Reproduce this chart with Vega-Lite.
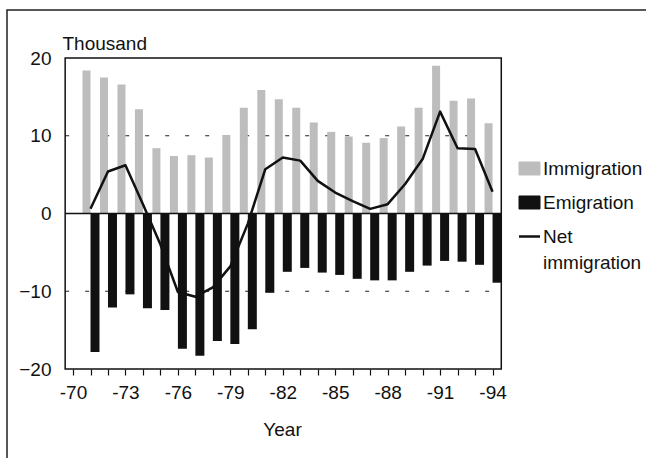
{
  "$schema": "https://vega.github.io/schema/vega-lite/v6.json",
  "width": 645,
  "height": 455,
  "autosize": {"type": "none"},
  "padding": {"left": 7, "top": 10, "right": -6, "bottom": -7},
  "background": "white",
  "config": {
    "font": "Liberation Sans",
    "view": {"stroke": "#222", "strokeWidth": 1.5}
  },
  "data": {
    "values": [
      {"year": 1971, "immigration": 18.4, "emigration": -17.8, "net": 0.6},
      {"year": 1972, "immigration": 17.5, "emigration": -12.1, "net": 5.4},
      {"year": 1973, "immigration": 16.6, "emigration": -10.4, "net": 6.2},
      {"year": 1974, "immigration": 13.4, "emigration": -12.2, "net": 1.2},
      {"year": 1975, "immigration": 8.4, "emigration": -12.4, "net": -4.0},
      {"year": 1976, "immigration": 7.4, "emigration": -17.4, "net": -10.1},
      {"year": 1977, "immigration": 7.5, "emigration": -18.3, "net": -10.7},
      {"year": 1978, "immigration": 7.2, "emigration": -16.4, "net": -9.5},
      {"year": 1979, "immigration": 10.1, "emigration": -16.8, "net": -6.8},
      {"year": 1980, "immigration": 13.6, "emigration": -14.9, "net": -1.3},
      {"year": 1981, "immigration": 15.9, "emigration": -10.2, "net": 5.7},
      {"year": 1982, "immigration": 14.7, "emigration": -7.5, "net": 7.2},
      {"year": 1983, "immigration": 13.6, "emigration": -7.0, "net": 6.8},
      {"year": 1984, "immigration": 11.7, "emigration": -7.6, "net": 4.2},
      {"year": 1985, "immigration": 10.5, "emigration": -7.9, "net": 2.7},
      {"year": 1986, "immigration": 9.9, "emigration": -8.4, "net": 1.6},
      {"year": 1987, "immigration": 9.1, "emigration": -8.6, "net": 0.6},
      {"year": 1988, "immigration": 9.7, "emigration": -8.6, "net": 1.2},
      {"year": 1989, "immigration": 11.2, "emigration": -7.5, "net": 3.8},
      {"year": 1990, "immigration": 13.6, "emigration": -6.7, "net": 7.0},
      {"year": 1991, "immigration": 19.0, "emigration": -6.1, "net": 13.1},
      {"year": 1992, "immigration": 14.5, "emigration": -6.2, "net": 8.4},
      {"year": 1993, "immigration": 14.8, "emigration": -6.6, "net": 8.3},
      {"year": 1994, "immigration": 11.6, "emigration": -8.9, "net": 2.8}
    ]
  },
  "layer": [
    {
      "data": {"values": [{"g": 10}, {"g": -10}]},
      "mark": {"type": "rule", "color": "#222", "strokeWidth": 1, "strokeDash": [4, 16]},
      "encoding": {
        "x": {"datum": 1969.55, "type": "quantitative"},
        "x2": {"datum": 1994.5},
        "y": {"field": "g", "type": "quantitative"}
      }
    },
    {
      "mark": {"type": "bar", "width": 8, "xOffset": -4},
      "encoding": {
        "x": {
          "field": "year",
          "type": "quantitative",
          "scale": {"domain": [1966.509, 2002.836], "nice": false, "zero": false},
          "axis": {
            "title": "Year",
            "offset": -96,
            "values": [1970, 1971, 1972, 1973, 1974, 1975, 1976, 1977, 1978, 1979, 1980, 1981, 1982, 1983, 1984, 1985, 1986, 1987, 1988, 1989, 1990, 1991, 1992, 1993, 1994],
            "tickCount": 40,
            "labelExpr": "(datum.value - 1970) % 3 == 0 ? '-' + (datum.value % 100) : ''",
            "grid": false,
            "domain": false,
            "tickColor": "#111",
            "tickWidth": 1.2,
            "tickSize": 6,
            "labelFontSize": 19,
            "labelColor": "#111",
            "labelPadding": 8,
            "labelFlush": false,
            "labelOverlap": false,
            "titleFontSize": 19,
            "titleFontWeight": "normal",
            "titleColor": "#111",
            "titleX": 275,
            "titlePadding": 18,
            "encode": {
              "ticks": {
                "update": {
                  "y2": {"signal": "(datum.value - 1970) % 3 == 0 ? 7 : 3.5"}
                }
              }
            }
          }
        },
        "y": {
          "field": "immigration",
          "type": "quantitative",
          "scale": {"domain": [-32.347, 26.174], "nice": false, "zero": false},
          "axis": {
            "title": "Thousand",
            "offset": -54,
            "titleAngle": 0,
            "titleAlign": "left",
            "titleBaseline": "alphabetic",
            "titleX": 1,
            "titleY": 39,
            "titleFontSize": 19,
            "titleFontWeight": "normal",
            "titleColor": "#111",
            "values": [-20, -10, 0, 10, 20],
            "ticks": false,
            "domain": false,
            "grid": false,
            "labelFontSize": 19,
            "labelColor": "#111",
            "labelPadding": 10
          }
        },
        "color": {
          "datum": "Immigration",
          "scale": {
            "domain": ["Immigration", "Emigration", "Net immigration"],
            "range": ["#bdbdbd", "#111111", "#111111"]
          },
          "legend": {
            "orient": "none",
            "legendX": 513,
            "legendY": 149,
            "title": null,
            "padding": 0,
            "labelFontSize": 19,
            "labelColor": "#111",
            "labelOffset": 4,
            "labelLimit": 300,
            "symbolSize": 441,
            "rowPadding": 14,
            "labelExpr": "datum.value === 'Net immigration' ? ['Net', 'immigration'] : datum.label",
            "encode": {
              "symbols": {
                "update": {
                  "shape": {"signal": "datum.value === 'Net immigration' ? 'stroke' : 'M-1,-0.62H1V0.62H-1Z'"},
                  "fill": {"signal": "datum.value === 'Net immigration' ? 'transparent' : (datum.value === 'Immigration' ? '#bdbdbd' : '#111111')"},
                  "stroke": {"signal": "datum.value === 'Immigration' ? '#444444' : '#111111'"},
                  "strokeWidth": {"signal": "datum.value === 'Net immigration' ? 2.5 : 1"},
                  "opacity": {"value": 1}
                }
              },
              "labels": {
                "update": {
                  "lineHeight": {"value": 26}
                }
              }
            }
          }
        }
      }
    },
    {
      "mark": {"type": "bar", "width": 9, "xOffset": 4.5},
      "encoding": {
        "x": {"field": "year", "type": "quantitative"},
        "y": {"field": "emigration", "type": "quantitative"},
        "color": {"datum": "Emigration"}
      }
    },
    {
      "data": {"values": [{"g": 0}]},
      "mark": {"type": "rule", "color": "#111", "strokeWidth": 1.5},
      "encoding": {
        "x": {"datum": 1969.55, "type": "quantitative"},
        "x2": {"datum": 1994.5},
        "y": {"field": "g", "type": "quantitative"}
      }
    },
    {
      "mark": {"type": "line", "strokeWidth": 2.5, "strokeJoin": "round"},
      "encoding": {
        "x": {"field": "year", "type": "quantitative"},
        "y": {"field": "net", "type": "quantitative"},
        "color": {"datum": "Net immigration"}
      }
    },
    {
      "data": {"values": [{"lo": -20, "hi": 20}]},
      "mark": {"type": "rect", "fill": null, "fillOpacity": 0, "stroke": "#111", "strokeWidth": 1.5},
      "encoding": {
        "x": {"datum": 1969.55, "type": "quantitative"},
        "x2": {"datum": 1994.5},
        "y": {"field": "lo", "type": "quantitative"},
        "y2": {"field": "hi"}
      }
    }
  ]
}
